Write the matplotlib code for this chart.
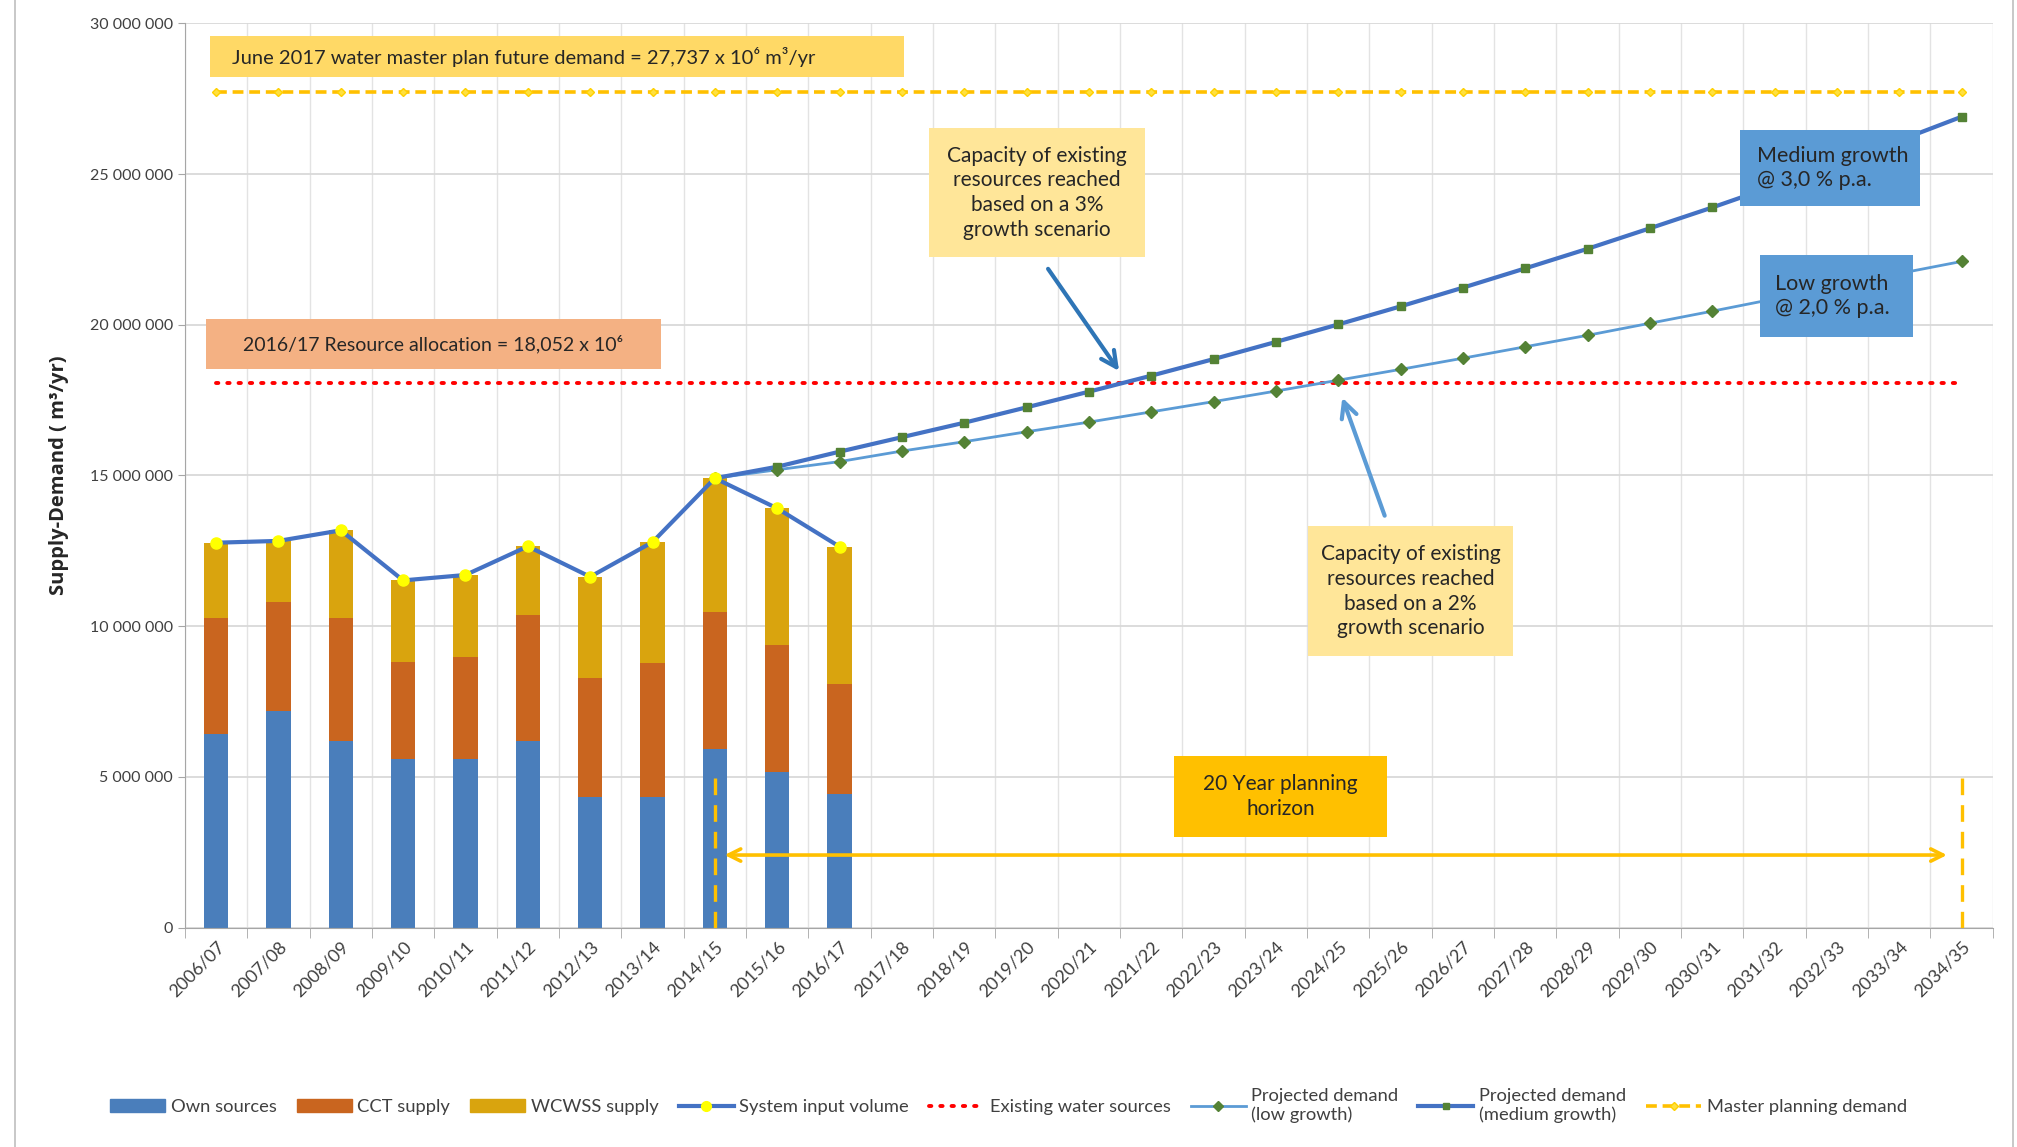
import matplotlib
matplotlib.use("Agg")
import matplotlib.pyplot as plt
from matplotlib.patches import Rectangle
from matplotlib.lines import Line2D
from matplotlib.patches import Patch
from matplotlib.ticker import FuncFormatter, MultipleLocator, FixedLocator

plt.rcParams['font.family'] = ['Lato', 'DejaVu Sans']

# ---- data (m3/yr) ----
years = ["2006/07", "2007/08", "2008/09", "2009/10", "2010/11", "2011/12", "2012/13",
         "2013/14", "2014/15", "2015/16", "2016/17", "2017/18", "2018/19", "2019/20",
         "2020/21", "2021/22", "2022/23", "2023/24", "2024/25", "2025/26", "2026/27",
         "2027/28", "2028/29", "2029/30", "2030/31", "2031/32", "2032/33", "2033/34",
         "2034/35"]
hist_years = years[:11]
own_sources = [6.41, 7.19, 6.18, 5.58, 5.58, 6.18, 4.33, 4.33, 5.94, 5.17, 4.45]
cct_supply = [3.86, 3.62, 4.09, 3.23, 3.41, 4.18, 3.95, 4.46, 4.53, 4.21, 3.65]
wcwss_supply = [2.50, 2.02, 2.91, 2.71, 2.71, 2.29, 3.36, 4.00, 4.44, 4.53, 4.54]
system_input = [12.77, 12.83, 13.18, 11.52, 11.70, 12.65, 11.64, 12.79, 14.91, 13.91, 12.64]

proj_years = years[8:]
proj_low = [14.91, 15.19, 15.46, 15.81, 16.12, 16.45, 16.77, 17.11, 17.45, 17.80, 18.16,
            18.52, 18.89, 19.27, 19.65, 20.05, 20.45, 20.86, 21.27, 21.70, 22.10]
proj_medium = [14.91, 15.29, 15.79, 16.27, 16.75, 17.26, 17.78, 18.31, 18.86, 19.43, 20.01,
               20.61, 21.23, 21.87, 22.52, 23.20, 23.89, 24.61, 25.35, 26.11, 26.90]
existing_sources = 18.052
master_demand = 27.737
M = 1e6

x_all = list(range(len(years)))
x_hist = [years.index(y) for y in hist_years]
x_proj = [years.index(y) for y in proj_years]

fig = plt.figure(figsize=(20.17, 11.47), dpi=100)
ax = fig.add_axes([0.0917, 0.1912, 0.8963, 0.7885])

# stacked bars
own = [v * M for v in own_sources]
cct = [v * M for v in cct_supply]
wcw = [v * M for v in wcwss_supply]
bw = 0.39
ax.bar(x_hist, own, bw, color='#4A7EBB', zorder=2)
ax.bar(x_hist, cct, bw, bottom=own, color='#C9651F', zorder=2)
ax.bar(x_hist, wcw, bw, bottom=[a + b for a, b in zip(own, cct)], color='#D9A40E', zorder=2)

# lines
ax.plot(x_all, [existing_sources * M] * len(x_all), color='#FF0000', lw=2.8,
        linestyle=(0, (0.6, 2.3)), dash_capstyle='round', zorder=3)
ax.plot(x_all, [master_demand * M] * len(x_all), color='#FFC000', lw=2.6,
        linestyle=(0, (3, 1.6)), marker='D', ms=4, mfc='#FFE040', mec='#FFD000', zorder=3)
ax.plot(x_proj, [v * M for v in proj_low], color='#5B9BD5', lw=2.0, marker='D', ms=6,
        mfc='#548235', mec='#548235', zorder=4)
ax.plot(x_proj, [v * M for v in proj_medium], color='#4472C4', lw=3.0, marker='s', ms=6,
        mfc='#548235', mec='#548235', zorder=4)
ax.plot(x_hist, [v * M for v in system_input], color='#4472C4', lw=3.0, marker='o', ms=8,
        mfc='#FFFF00', mec='#FFFF00', zorder=5)

# planning horizon markers
h0, h1 = years.index("2014/15"), years.index("2034/35")
ax.vlines([h0, h1], 0, 5.0 * M, colors='#FFC000', lw=2.4, linestyles=(0, (5, 3)), zorder=3)
ax.annotate('', xy=(h1 - 0.19, 2.41 * M), xytext=(h0 + 0.11, 2.41 * M),
            arrowprops=dict(arrowstyle='<->', color='#FFC000', lw=2.6,
                            mutation_scale=22), zorder=4)

# annotation arrows
ax.annotate('', xy=(14.51, 18.39 * M), xytext=(13.32, 21.93 * M),
            arrowprops=dict(arrowstyle='->', color='#2E75B6', lw=3, mutation_scale=28), zorder=6)
ax.annotate('', xy=(18.05, 17.67 * M), xytext=(18.76, 13.58 * M),
            arrowprops=dict(arrowstyle='->', color='#5B9BD5', lw=3, mutation_scale=28), zorder=6)


def box(x0, x1, y0, y1, text, fc, ha='center', tx=None, size=15, ls=1.25):
    ax.add_patch(Rectangle((x0, y0 * M), x1 - x0, (y1 - y0) * M, facecolor=fc,
                           edgecolor='none', zorder=7))
    if tx is None:
        tx = (x0 + x1) / 2
    ax.text(tx, (y0 + y1) / 2 * M, text, ha=ha, va='center', fontsize=size,
            color='#262626', linespacing=ls, zorder=8)


box(-0.10, 11.04, 28.21, 29.58, "June 2017 water master plan future demand = 27,737 x 10\u2076 m\u00b3/yr",
    '#FFD966', ha='left', tx=0.25, size=14.5)
box(-0.17, 7.14, 18.53, 20.19, "2016/17 Resource allocation = 18,052 x 10\u2076", '#F4B183', size=14)
box(11.43, 14.90, 22.24, 26.51,
    "Capacity of existing\nresources reached\nbased on a 3%\ngrowth scenario", '#FFE699', ls=1.3)
box(17.52, 20.80, 9.01, 13.32,
    "Capacity of existing\nresources reached\nbased on a 2%\ngrowth scenario", '#FFE699', ls=1.3)
box(24.45, 27.34, 23.95, 26.46, "Medium growth\n@ 3,0 % p.a.", '#5B9BD5', ha='left', tx=24.72,
    size=15.5)
box(24.76, 27.22, 19.59, 22.32, "Low growth\n@ 2,0 % p.a.", '#5B9BD5', ha='left', tx=25.0,
    size=15.5)
box(15.37, 18.78, 3.0, 5.7, "20 Year planning\nhorizon", '#FFC000', ls=1.3)

# axes styling
ax.set_xlim(-0.5, len(years) - 0.5)
ax.set_ylim(0, 30 * M)
ax.yaxis.set_major_locator(MultipleLocator(5 * M))
ax.yaxis.set_major_formatter(FuncFormatter(lambda v, p: f"{int(v):,}".replace(",", " ")))
ax.set_xticks(x_all)
ax.set_xticklabels(years, rotation=45, ha='right', rotation_mode='anchor', fontsize=13,
                   color='#404040')
ax.xaxis.set_minor_locator(FixedLocator([i + 0.5 for i in range(-1, len(years))]))
ax.tick_params(axis='x', which='major', length=0, pad=8)
ax.tick_params(axis='x', which='minor', length=7, color='#A6A6A6')
ax.tick_params(axis='y', length=5, color='#A6A6A6', labelsize=11.5, labelcolor='#404040')
ax.grid(axis='y', which='major', color='#D9D9D9', lw=1.3, zorder=0)
ax.grid(axis='x', which='minor', color='#E3E3E3', lw=1.0, zorder=0)
ax.set_axisbelow(True)
for s in ['top', 'right']:
    ax.spines[s].set_visible(False)
ax.spines['left'].set_color('#A6A6A6')
ax.spines['bottom'].set_color('#A6A6A6')
ax.set_ylabel("Supply-Demand ( m\u00b3/yr)", fontsize=14.5, fontweight='bold', color='#262626',
              family=['Open Sans', 'DejaVu Sans'])
ax.yaxis.set_label_coords(-0.064, 0.5)

# legend
handles = [
    Patch(color='#4A7EBB'), Patch(color='#C9651F'), Patch(color='#D9A40E'),
    Line2D([], [], color='#4472C4', lw=3, marker='o', ms=7, mfc='#FFFF00', mec='#FFFF00'),
    Line2D([], [], color='#FF0000', lw=2.8, linestyle=(0, (0.6, 2.3)), dash_capstyle='round'),
    Line2D([], [], color='#5B9BD5', lw=2, marker='D', ms=5, mfc='#548235', mec='#548235'),
    Line2D([], [], color='#4472C4', lw=3, marker='s', ms=5, mfc='#548235', mec='#548235'),
    Line2D([], [], color='#FFC000', lw=2.6, linestyle=(0, (3, 1.6)), marker='D', ms=4,
           mfc='#FFE040', mec='#FFD000'),
]
labels = ["Own sources", "CCT supply", "WCWSS supply", "System input volume",
          "Existing water sources", "Projected demand\n(low growth)",
          "Projected demand\n(medium growth)", "Master planning demand"]
fig.legend(handles, labels, loc='center', bbox_to_anchor=(0.5, 0.036), ncol=8,
           frameon=False, fontsize=13.2, handlelength=3.0, handletextpad=0.3,
           columnspacing=1.1, labelcolor='#404040')

# thin frame around the picture
fig.patches.append(Rectangle((0.0074, -0.05), 0.9906, 1.2, transform=fig.transFigure,
                             fill=False, edgecolor='#BFBFBF', lw=1.2))

fig.savefig("out.png", dpi=100)
